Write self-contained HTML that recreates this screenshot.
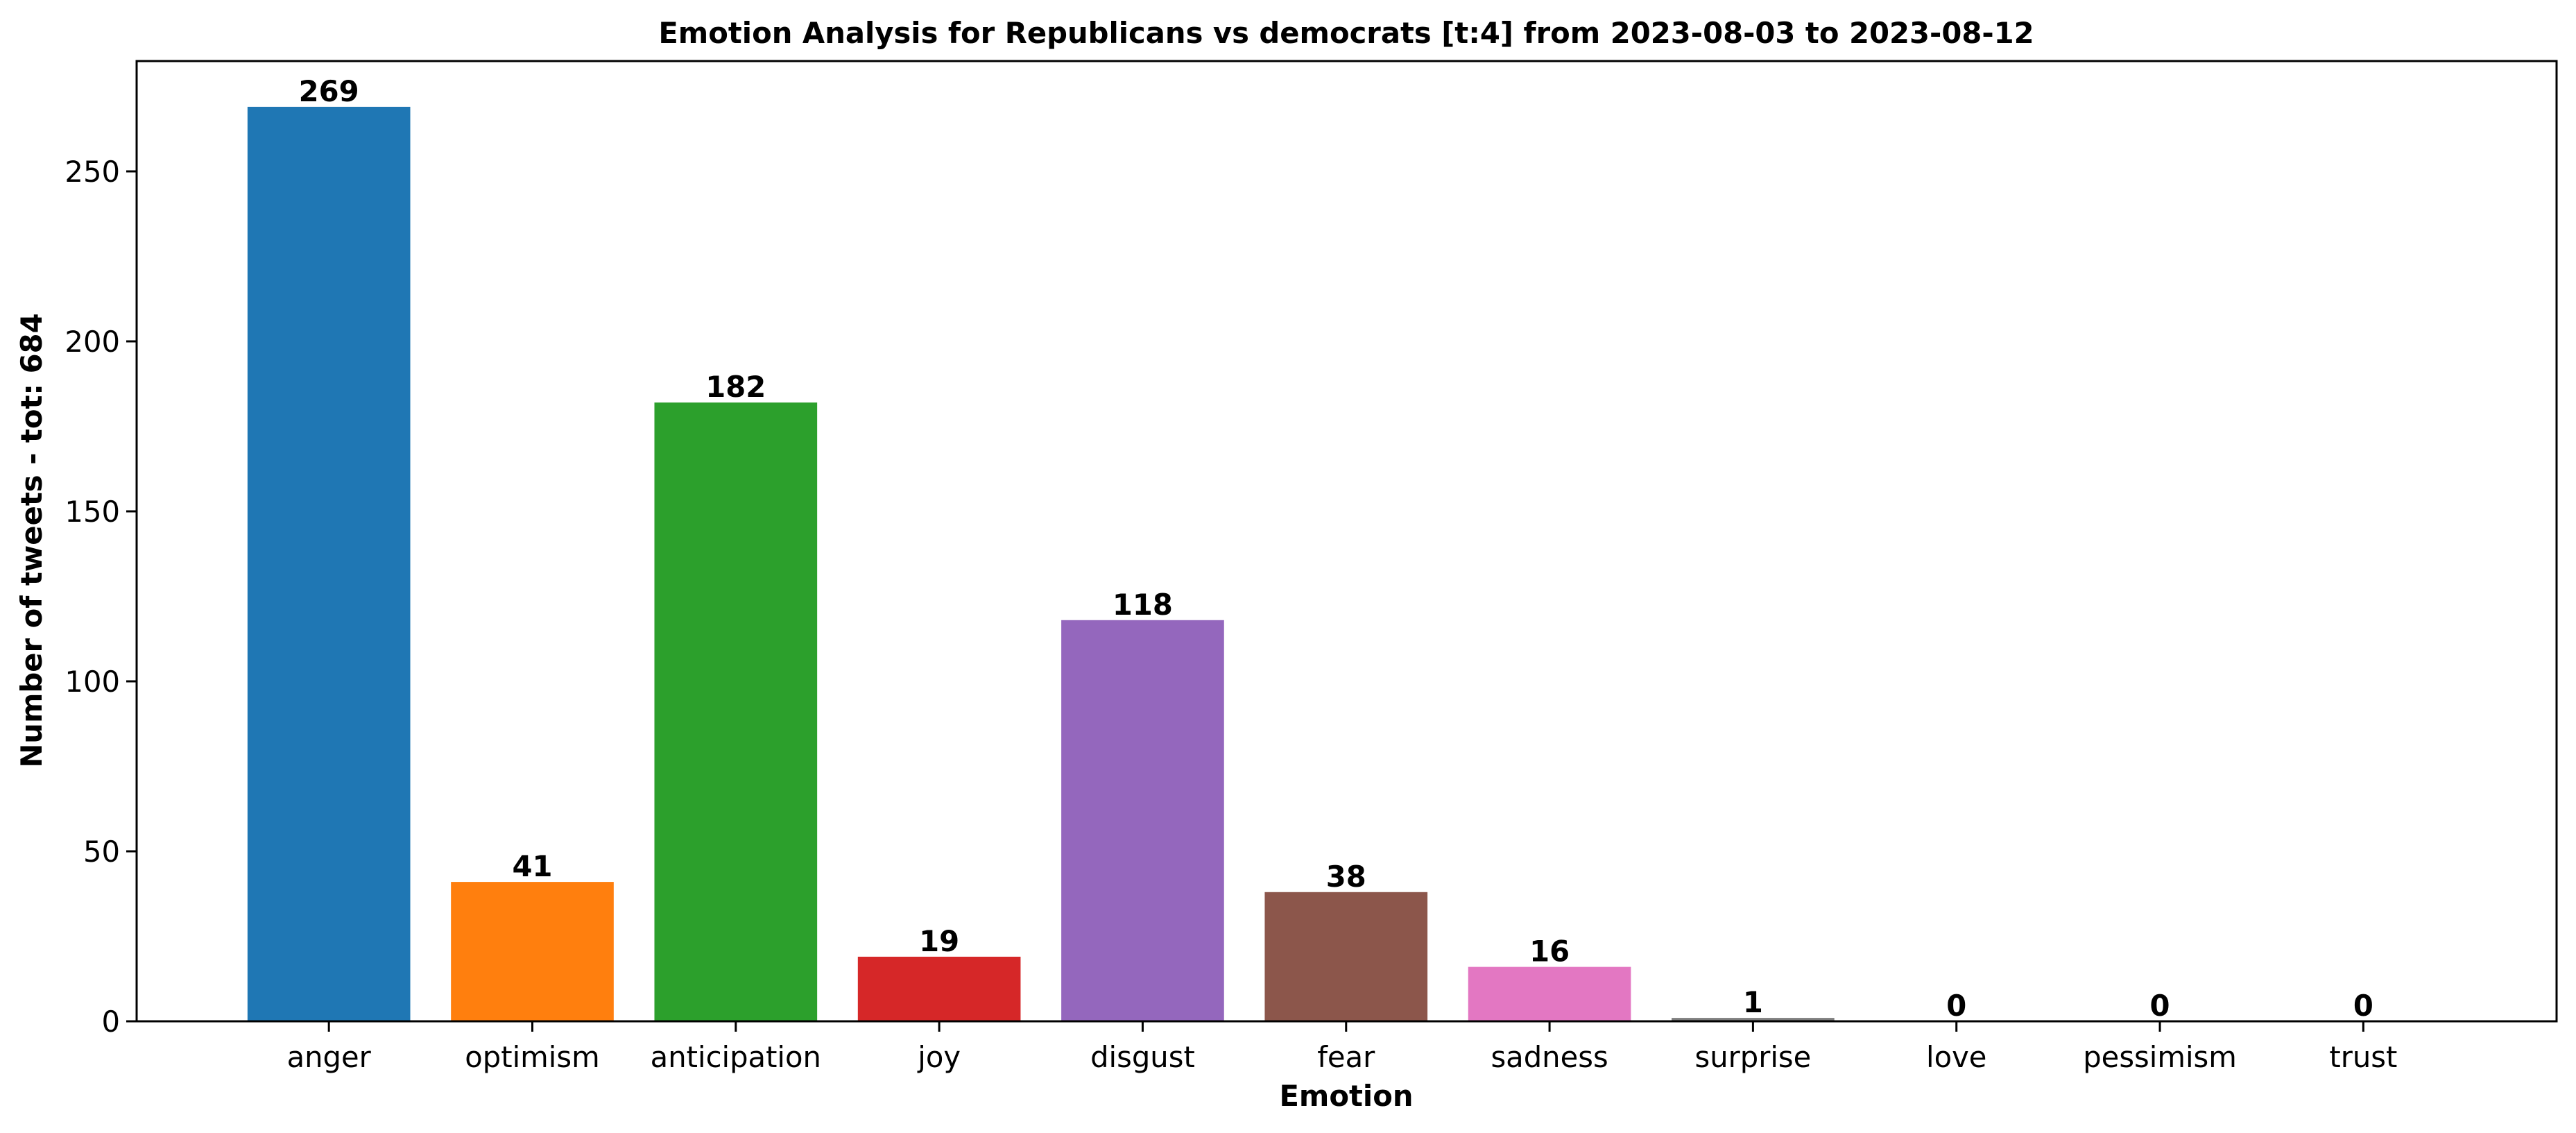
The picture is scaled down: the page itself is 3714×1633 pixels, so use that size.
<!DOCTYPE html>
<html><head><meta charset="utf-8"><style>
html,body{margin:0;padding:0;background:#fff;}
svg{display:block;font-family:"DejaVu Sans","Liberation Sans",sans-serif;}
</style></head><body>
<svg id="chart" width="3714" height="1633" viewBox="0 0 3714 1633" xmlns="http://www.w3.org/2000/svg">
<rect width="3714" height="1633" fill="#fff"/>
<text x="1941" y="62" text-anchor="middle" font-size="41.7" font-weight="bold">Emotion Analysis for Republicans vs democrats [t:4] from 2023-08-03 to 2023-08-12</text>
<g id="bars"></g>
<g id="axes"></g>
<text x="1941" y="1594" text-anchor="middle" font-size="41.7" font-weight="bold">Emotion</text>
<text transform="translate(60,779) rotate(-90)" text-anchor="middle" font-size="41.7" font-weight="bold">Number of tweets - tot: 684</text>
</svg>
<script>
const categories = ["anger","optimism","anticipation","joy","disgust","fear","sadness","surprise","love","pessimism","trust"];
const values = [269,41,182,19,118,38,16,1,0,0,0];
const colors = ["#1f77b4","#ff7f0e","#2ca02c","#d62728","#9467bd","#8c564b","#e377c2","#7f7f7f","#bcbd22","#17becf","#1f77b4"];
const yTicks = [0,50,100,150,200,250];

const L=197,R=3686,T=88,B=1472;
const xMin=-0.945,xMax=10.95,yMax=282.45;
const xs=v=>L+(v-xMin)/(xMax-xMin)*(R-L);
const ys=v=>B-v/yMax*(B-T);
const bw=0.8*(R-L)/(xMax-xMin);
const NS="http://www.w3.org/2000/svg";
const bars=document.getElementById('bars'), axes=document.getElementById('axes');
function mk(tag,attrs,parent){const e=document.createElementNS(NS,tag);for(const k in attrs)e.setAttribute(k,attrs[k]);parent.appendChild(e);return e;}
categories.forEach((c,i)=>{
  const v=values[i];
  const r=mk('rect',{x:xs(i)-bw/2,y:ys(v),width:bw,height:B-ys(v),fill:colors[i]},bars);
  
  
  const t=mk('text',{x:xs(i),y:ys(v)-8,'text-anchor':'middle','font-size':41.7,'font-weight':'bold'},bars);
  t.textContent=v;
  
  
  mk('line',{x1:xs(i),x2:xs(i),y1:B,y2:B+15,stroke:'#000','stroke-width':3},axes);
  const xl=mk('text',{x:xs(i),y:B+66,'text-anchor':'middle','font-size':41.7},axes);
  xl.textContent=c;
  
  
});
yTicks.forEach(v=>{
  mk('line',{x1:L-15,x2:L,y1:ys(v),y2:ys(v),stroke:'#000','stroke-width':3},axes);
  const t=mk('text',{x:L-24,y:ys(v)+15,'text-anchor':'end','font-size':41.7},axes);
  t.textContent=v;
  
  
});
const f=mk('rect',{x:L,y:T,width:R-L,height:B-T,fill:'none',stroke:'#000','stroke-width':3},axes);


</script>
</body></html>
